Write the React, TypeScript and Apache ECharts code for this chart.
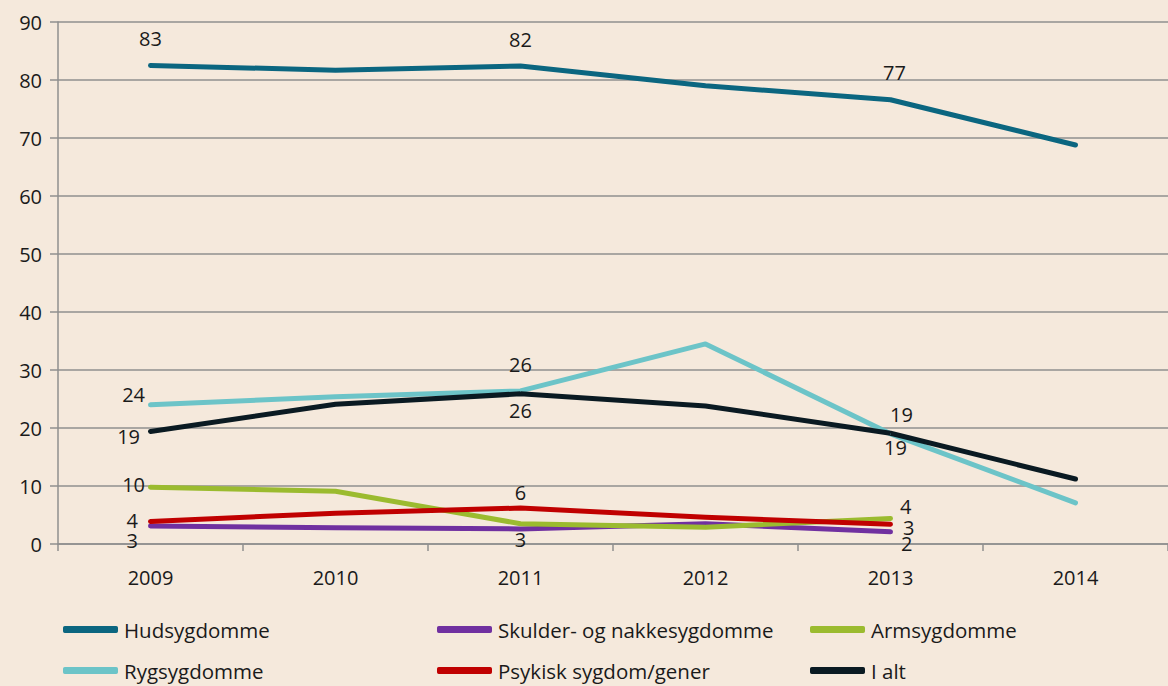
import React, { useEffect, useRef } from "react";
import * as echarts from "echarts";

const years = ["2009", "2010", "2011", "2012", "2013", "2014"];
const hudsygdomme = [82.5, 81.7, 82.4, 79.0, 76.6, 68.8];
const skulder = [3.1, 2.8, 2.6, 3.5, 2.1, null];
const armsygdomme = [9.8, 9.1, 3.5, 2.9, 4.4, null];
const rygsygdomme = [24.0, 25.4, 26.4, 34.5, 19.0, 7.1];
const psykisk = [3.9, 5.3, 6.2, 4.6, 3.4, null];
const iAlt = [19.4, 24.1, 25.9, 23.8, 19.1, 11.2];
const yTicks = { min: 0, max: 90, interval: 10 };

const seriesDefs = [
  { name: "Hudsygdomme", data: hudsygdomme, color: "#0b6680" },
  { name: "Skulder- og nakkesygdomme", data: skulder, color: "#7030a0" },
  { name: "Armsygdomme", data: armsygdomme, color: "#9bbb2f" },
  { name: "Rygsygdomme", data: rygsygdomme, color: "#6cc4c8" },
  { name: "Psykisk sygdom/gener", data: psykisk, color: "#c00000" },
  { name: "I alt", data: iAlt, color: "#0a1a22" },
];

// label placement per series: index -> [position, distance, dx, dy]
const labelLayout: Record<string, Record<number, [string, number, number, number]>> = {
  Hudsygdomme: { 0: ["top", 18, 0, 0], 2: ["top", 18, 0, 0], 4: ["top", 18, 4, 0] },
  "Skulder- og nakkesygdomme": { 0: ["left", 12, 0, 14], 2: ["bottom", 2, 0, 0], 4: ["right", 10, 0, 12] },
  Armsygdomme: { 0: ["left", 5, 0, -3], 4: ["right", 9, 0, -12] },
  Rygsygdomme: { 0: ["left", 5, 0, -10], 2: ["top", 17, 0, 0], 4: ["bottom", 5, 5, 0] },
  "Psykisk sygdom/gener": { 0: ["left", 12, 0, -1], 2: ["top", 7, 0, 0], 4: ["right", 12, 0, 3] },
  "I alt": { 0: ["left", 10, 0, 5], 2: ["bottom", 8, 0, 0], 4: ["top", 10, 11, 0] },
};

const FONT = "'Open Sans', 'Noto Sans', sans-serif";
const TEXT = "#1a1a1a";
const GRID_COLOR = "#8f8f8f";

export default function App() {
  const ref = useRef<HTMLDivElement>(null);
  useEffect(() => {
    document.body.style.margin = "0";
    if (!ref.current) return;
    const chart = echarts.init(ref.current, undefined, { renderer: "svg" });

    const series = seriesDefs.map((s) => ({
      name: s.name,
      type: "line",
      showSymbol: true,
      symbol: "circle",
      symbolSize: 1,
      itemStyle: { color: s.color },
      lineStyle: { color: s.color, width: 5, cap: "round", join: "round" },
      emphasis: { disabled: true },
      data: s.data.map((v, i) => {
        const lay = labelLayout[s.name][i];
        if (v === null) return null;
        if (!lay) return { value: v, label: { show: false } };
        return {
          value: v,
          label: {
            show: true,
            position: lay[0],
            distance: lay[1],
            offset: [lay[2], lay[3]],
            formatter: () => String(Math.round(v)),
            color: TEXT,
            fontFamily: FONT,
            fontSize: 20,
            lineHeight: 17,
          },
        };
      }),
    }));

    const legendCols = [
      { left: 63, items: [seriesDefs[0], seriesDefs[3]] },
      { left: 437, items: [seriesDefs[1], seriesDefs[4]] },
      { left: 810, items: [seriesDefs[2], seriesDefs[5]] },
    ];
    const legendTops = [619, 660];
    const legends: any[] = [];
    legendCols.forEach((col) => {
      col.items.forEach((it, r) => {
        legends.push({
          left: col.left,
          top: legendTops[r],
          orient: "horizontal",
          padding: 0,
          itemWidth: 55,
          itemHeight: 7,
          icon: "roundRect",
          selectedMode: false,
          data: [{ name: it.name, itemStyle: { color: it.color } }],
          textStyle: { color: TEXT, fontFamily: FONT, fontSize: 20.5, padding: [0, 0, 0, 1] },
        });
      });
    });

    chart.setOption({
      animation: false,
      backgroundColor: "#f5e9dc",
      textStyle: { fontFamily: FONT },
      grid: { left: 58, right: -7, top: 22, bottom: 142, containLabel: false },
      legend: legends,
      xAxis: {
        type: "category",
        data: years,
        boundaryGap: true,
        axisLine: { show: true, lineStyle: { color: GRID_COLOR, width: 1.5 } },
        axisTick: { show: true, length: 7, lineStyle: { color: GRID_COLOR, width: 1.5 } },
        axisLabel: { color: TEXT, fontFamily: FONT, fontSize: 20, margin: 23 },
        splitLine: { show: false },
      },
      yAxis: {
        type: "value",
        min: yTicks.min,
        max: yTicks.max,
        interval: yTicks.interval,
        axisLine: { show: true, lineStyle: { color: GRID_COLOR, width: 1.5 } },
        axisTick: { show: true, length: 8, lineStyle: { color: GRID_COLOR, width: 1.5 } },
        axisLabel: { color: TEXT, fontFamily: FONT, fontSize: 20, margin: 16 },
        splitLine: { show: true, lineStyle: { color: GRID_COLOR, width: 1.5 } },
      },
      series,
    });
    return () => chart.dispose();
  }, []);
  return <div ref={ref} style={{ width: 1168, height: 686 }} />;
}
